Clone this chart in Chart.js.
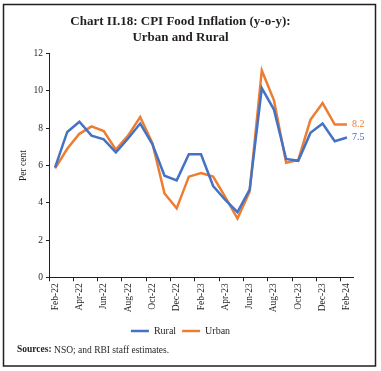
<!DOCTYPE html>
<html>
<head>
<meta charset="utf-8">
<script src="https://cdn.jsdelivr.net/npm/chart.js@4.4.1/dist/chart.umd.min.js"></script>
<style>
  html, body { margin: 0; padding: 0; background: #fff; }
  canvas { display: block; }
</style>
</head>
<body>
<canvas id="cpi_chart" width="381" height="371"></canvas>
<script>
// DATA
const months = ["Feb-22","Mar-22","Apr-22","May-22","Jun-22","Jul-22","Aug-22","Sep-22","Oct-22","Nov-22","Dec-22","Jan-23",
  "Feb-23","Mar-23","Apr-23","May-23","Jun-23","Jul-23","Aug-23","Sep-23","Oct-23","Nov-23","Dec-23","Jan-24","Feb-24"];
const rural = [5.9, 7.8, 8.35, 7.6, 7.4, 6.7, 7.45, 8.25, 7.15, 5.45, 5.2, 6.6,
  6.6, 4.9, 4.15, 3.5, 4.7, 10.15, 9.0, 6.35, 6.25, 7.75, 8.25, 7.3, 7.5];
const urban = [5.85, 6.9, 7.7, 8.1, 7.85, 6.85, 7.6, 8.6, 7.2, 4.5, 3.7, 5.4,
  5.6, 5.4, 4.3, 3.15, 4.6, 11.1, 9.5, 6.15, 6.3, 8.45, 9.35, 8.2, 8.2];
const y_ticks = [0, 2, 4, 6, 8, 10, 12];

const BLUE = '#4472C4';
const ORANGE = '#ED7D31';
const INK = '#231f20';
const SERIF = "'Liberation Serif', 'DejaVu Serif', serif";

Chart.defaults.font.family = SERIF;
Chart.defaults.color = INK;

// end labels, frame and source note
const extras = {
  id: 'extras',
  afterDatasetsDraw(chart) {
    const ctx = chart.ctx;
    ctx.save();
    ctx.font = '10px ' + SERIF;
    ctx.textBaseline = 'middle';
    ctx.textAlign = 'left';
    chart.data.datasets.forEach((ds, i) => {
      const meta = chart.getDatasetMeta(i);
      const pt = meta.data[meta.data.length - 1];
      ctx.fillStyle = ds.borderColor;
      ctx.fillText(ds.data[ds.data.length - 1].toFixed(1), pt.x + 5, pt.y);
    });
    ctx.restore();
  },
  afterDraw(chart) {
    const ctx = chart.ctx;
    ctx.save();
    ctx.strokeStyle = INK;
    ctx.lineWidth = 1.5;
    ctx.strokeRect(3.5, 4.5, 372, 361.5);
    ctx.textBaseline = 'middle';
    ctx.fillStyle = INK;
    ctx.font = 'bold 9.5px ' + SERIF;
    ctx.fillText('Sources:', 17, 350);
    const w = ctx.measureText('Sources:').width;
    ctx.font = '9.5px ' + SERIF;
    ctx.fillText(' NSO; and RBI staff estimates.', 17 + w, 350);
    ctx.restore();
  }
};

new Chart(document.getElementById('cpi_chart'), {
  type: 'line',
  data: {
    labels: months,
    datasets: [{
      label: 'Rural',
      data: rural,
      borderColor: BLUE,
      backgroundColor: BLUE,
      borderWidth: 2.5,
      pointRadius: 0,
      fill: false
    }, {
      label: 'Urban',
      data: urban,
      borderColor: ORANGE,
      backgroundColor: ORANGE,
      borderWidth: 2.5,
      pointRadius: 0,
      fill: false
    }]
  },
  options: {
    responsive: false,
    animation: false,
    devicePixelRatio: 1,
    layout: { padding: { left: 8, right: 28, top: 14, bottom: 25 } },
    plugins: {
      title: {
        display: true,
        text: ['Chart II.18: CPI Food Inflation (y-o-y):', 'Urban and Rural'],
        font: { size: 13, weight: 'bold', lineHeight: 1.23 },
        color: INK,
        padding: { top: 0, bottom: 7.7 }
      },
      legend: {
        position: 'bottom',
        labels: {
          usePointStyle: true,
          pointStyle: 'line',
          pointStyleWidth: 18,
          padding: 6,
          font: { size: 10 },
          color: INK
        }
      },
      tooltip: { enabled: false }
    },
    scales: {
      x: {
        type: 'category',
        offset: true,
        grid: {
          offset: true,
          drawOnChartArea: false,
          tickLength: 4,
          color: c => (c.index % 2 === 0 ? INK : 'rgba(0,0,0,0)')
        },
        border: { color: INK, width: 1 },
        ticks: {
          autoSkip: false,
          maxRotation: 90,
          minRotation: 90,
          padding: 2,
          font: { size: 9.5 },
          color: INK,
          callback: (v, i) => (i % 2 === 0 ? months[i] : '')
        },
        afterFit: s => { s.height = 42.7; }
      },
      y: {
        min: 0,
        max: 12,
        afterBuildTicks: s => { s.ticks = y_ticks.map(v => ({ value: v })); },
        grid: { drawOnChartArea: false, tickLength: 3, color: INK },
        border: { color: INK, width: 1 },
        ticks: { padding: 3, font: { size: 9.5 }, color: INK },
        title: { display: true, text: 'Per cent', font: { size: 9.5 }, color: INK, padding: { top: 9.5, bottom: 0 } },
        afterFit: s => { s.width = 41; }
      }
    }
  },
  plugins: [extras]
});
</script>
</body>
</html>
